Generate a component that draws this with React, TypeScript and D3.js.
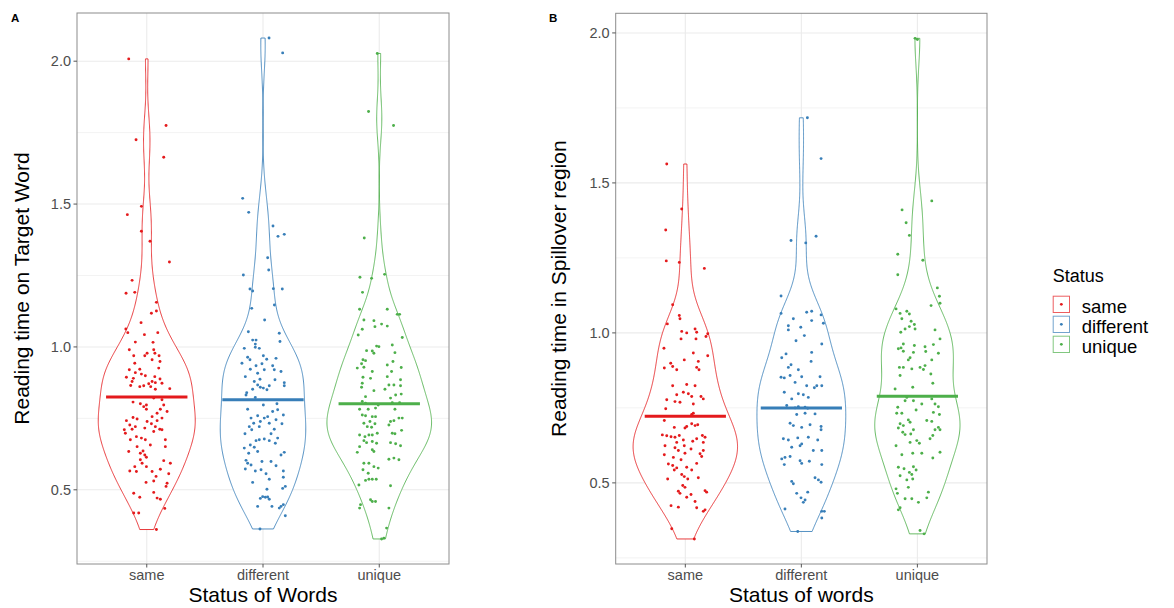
import React from 'react';
import * as d3 from 'd3';

type Pt = [number, number]; // [jitter offset in category units, value]

const categories = ['same', 'different', 'unique'];
const colors = ['#E41A1C', '#377EB8', '#4DAF4A'];
const yTicks = [0.5, 1.0, 1.5, 2.0];
const yMinorTicks = [0.25, 0.75, 1.25, 1.75];
const meansA = [0.825, 0.815, 0.801];
const meansB = [0.722, 0.75, 0.789];

const sameA: Pt[] = [
  [-0.155,2.008],[0.166,1.775],[-0.092,1.725],[0.146,1.664],[-0.046,1.492],[-0.167,1.463],[-0.046,1.405],[0.028,1.37],[0.195,1.297],[-0.126,1.233],[-0.178,1.188],[-0.103,1.191],
  [0.083,1.156],[0.04,1.118],[0.083,1.126],[-0.049,1.085],[-0.18,1.063],[-0.163,1.05],[-0.02,1.043],[0.095,1.05],[-0.098,1.017],[0.054,1.016],[-0.15,0.99],[0.06,0.99],[0.07,0.978],[-0.112,0.969],[-0.017,0.969],[0.003,0.978],[0.106,0.969],[0.046,0.955],[0.114,0.949],[-0.103,0.943],[-0.15,0.92],[-0.06,0.922],[0.103,0.926],[-0.098,0.91],[-0.046,0.905],[-0.012,0.899],[-0.175,0.894],[-0.115,0.89],[0.069,0.896],[0.114,0.888],[-0.126,0.879],[0.046,0.879],[0.017,0.871],[0.074,0.875],[0.131,0.873],[-0.138,0.865],[-0.06,0.861],[-0.026,0.864],[0.034,0.861],[0.198,0.854],[0.074,0.852],
  [0.06,0.821],[0.131,0.815],[-0.118,0.807],[-0.055,0.801],[-0.003,0.797],[0.146,0.797],[-0.026,0.791],[-0.003,0.782],[0.117,0.782],[0.175,0.774],[0.089,0.768],[0.046,0.756],[-0.118,0.753],[-0.083,0.748],[0.131,0.751],[-0.175,0.742],[0.003,0.739],[0.089,0.742],[-0.146,0.727],[0.04,0.731],[0.074,0.721],[-0.098,0.721],[-0.017,0.716],[0.112,0.712],[-0.193,0.71],[-0.126,0.712],[-0.184,0.698],[0.06,0.704],[0.131,0.71],[-0.089,0.686],[-0.046,0.681],[-0.141,0.675],[-0.012,0.675],[0.16,0.675],[0.031,0.657],[-0.083,0.651],[0.16,0.651],[-0.032,0.636],[-0.055,0.628],[-0.155,0.634],[-0.017,0.622],[-0.003,0.614],[-0.055,0.605],[0.146,0.602],[-0.04,0.593],[0.203,0.593],[-0.103,0.581],[-0.003,0.581],[0.117,0.572],[-0.146,0.566],[-0.089,0.564],[0.046,0.564],[0.189,0.556],[0.08,0.547],[-0.006,0.526],[0.06,0.531],[0.175,0.523],[0.166,0.512],[-0.112,0.488],[-0.06,0.474],[0.06,0.491],[0.089,0.471],[0.117,0.467],[0.155,0.435],[-0.112,0.419],[-0.069,0.419],[0.083,0.361]
];

const differentA: Pt[] = [
  [0.052,2.081],[0.169,2.029],[-0.175,1.52],[-0.123,1.471],[0.086,1.423],[0.129,1.387],[0.183,1.394],[0.04,1.312],[0.049,1.269],[-0.169,1.252],[-0.112,1.203],[-0.089,1.196],[0.089,1.204],[0.166,1.203],
  [0.098,1.147],[-0.097,1.135],[0.014,1.094],[-0.126,1.053],[0.14,1.048],[-0.089,1.024],[-0.06,1.024],[-0.066,1.01],[0.146,1.019],[-0.066,0.999],[-0.161,0.995],[-0.032,0.995],[0.003,0.969],[0.112,0.96],[-0.132,0.964],[-0.112,0.955],[0.032,0.957],[-0.181,0.943],[-0.009,0.941],[-0.06,0.934],[0.083,0.934],[-0.109,0.922],[0.011,0.92],[0.097,0.92],[0.155,0.914],[-0.046,0.908],[-0.152,0.896],[-0.026,0.887],[0.103,0.885],[-0.075,0.879],[0.183,0.875],[-0.046,0.867],[0.054,0.864],[0.183,0.864],[-0.023,0.859],[0.003,0.856],[-0.089,0.852],[0.034,0.85],[-0.14,0.84],[-0.146,0.832],[-0.066,0.823],
  [0.003,0.797],[0.12,0.801],[-0.132,0.782],[0.126,0.78],[0.083,0.774],[0.175,0.762],[-0.046,0.759],[0.04,0.756],[-0.103,0.751],[0.011,0.751],[0.112,0.745],[-0.023,0.739],[-0.08,0.733],[0.054,0.733],[0.163,0.731],[-0.118,0.721],[-0.032,0.721],[0.097,0.712],[-0.097,0.71],[-0.155,0.696],[0.069,0.696],[0.126,0.681],[0.011,0.678],[-0.032,0.675],[-0.06,0.672],[0.054,0.672],[-0.109,0.657],[-0.075,0.649],[0.106,0.663],[-0.161,0.646],[-0.123,0.628],[-0.046,0.634],[0.183,0.631],[0.155,0.622],[-0.146,0.603],[-0.132,0.593],[-0.009,0.599],[0.069,0.599],[-0.103,0.587],[0.112,0.584],[-0.152,0.573],[-0.066,0.566],[-0.017,0.57],[0.175,0.566],[0.026,0.556],[0.175,0.544],[0.054,0.537],[-0.089,0.526],[0.192,0.512],[0.169,0.505],[0.034,0.502],[-0.003,0.476],[0.02,0.474],[0.04,0.475],[-0.023,0.47],[0.054,0.467],[-0.046,0.442],[0.077,0.442],[0.155,0.442],[0.175,0.448],[0.14,0.436],[0.192,0.409],[-0.026,0.363]
];

const uniqueA: Pt[] = [
  [-0.017,2.027],[-0.092,1.824],[0.123,1.775],[-0.129,1.381],[-0.166,1.244],[-0.066,1.24],[0.046,1.254],[-0.144,1.191],
  [-0.169,1.132],[0.069,1.132],[0.155,1.114],[0.175,1.114],[-0.132,1.094],[-0.046,1.092],[0.02,1.08],[-0.037,1.071],[0.069,1.073],[-0.146,1.062],[-0.181,1.042],[0.198,1.033],[-0.023,1.003],[-0.003,1.001],[0.112,1.007],[-0.109,0.987],[-0.046,0.978],[-0.06,0.986],[0.135,0.98],[-0.14,0.955],[-0.118,0.952],[0.118,0.949],[-0.152,0.941],[0.069,0.937],[-0.189,0.926],[-0.132,0.929],[0.189,0.928],[-0.06,0.914],[0.106,0.914],[-0.14,0.894],[-0.075,0.89],[0.069,0.896],[0.183,0.885],[-0.146,0.873],[0.083,0.867],[0.126,0.867],[0.183,0.864],[-0.152,0.859],[-0.046,0.847],[0.049,0.852],[0.141,0.832],[0.189,0.835],[-0.118,0.826],[0.097,0.821],
  [-0.146,0.809],[-0.118,0.803],[-0.009,0.797],[0.112,0.805],[0.175,0.805],[-0.169,0.782],[-0.095,0.782],[-0.032,0.786],[0.135,0.782],[-0.146,0.762],[-0.118,0.759],[-0.06,0.756],[-0.032,0.756],[0.169,0.751],[0.198,0.751],[-0.08,0.739],[0.097,0.739],[0.126,0.742],[-0.132,0.733],[-0.037,0.731],[0.083,0.727],[-0.103,0.721],[-0.066,0.719],[0.192,0.708],[0.112,0.698],[0.135,0.696],[-0.169,0.692],[-0.123,0.686],[-0.089,0.692],[-0.06,0.692],[-0.017,0.698],[-0.132,0.672],[-0.109,0.665],[-0.06,0.669],[-0.023,0.663],[0.097,0.665],[0.141,0.661],[0.183,0.654],[-0.169,0.651],[-0.06,0.64],[-0.046,0.634],[-0.189,0.631],[0.083,0.607],[0.126,0.611],[0.169,0.605],[-0.132,0.593],[-0.089,0.593],[-0.046,0.581],[-0.009,0.576],[-0.14,0.57],[-0.095,0.558],[-0.026,0.537],[-0.06,0.537],[-0.089,0.537],[-0.118,0.533],[-0.175,0.517],[0.097,0.514],[-0.075,0.465],[-0.06,0.459],[-0.032,0.459],[-0.161,0.448],[-0.169,0.436],[0.083,0.436],[0.063,0.366],[0.02,0.328],[0.04,0.331]
];

const sameB: Pt[] = [
  [-0.16,1.563],[-0.031,1.413],[-0.169,1.343],[-0.164,1.24],[-0.052,1.235],[0.164,1.215],
  [-0.109,1.094],[-0.052,1.058],[-0.046,1.047],[-0.155,1.03],[-0.031,1.005],[0.012,1.0],[0.084,1.013],[0.098,1.002],[0.193,0.997],[-0.037,0.98],[0.092,0.98],[0.178,0.988],[-0.184,0.949],[0.069,0.933],[0.193,0.924],[-0.009,0.91],[0.112,0.905],[-0.126,0.899],[-0.109,0.888],[-0.181,0.883],[-0.074,0.877],[0.098,0.885],[0.118,0.877],[-0.109,0.824],[0.012,0.828],[0.084,0.824],[-0.017,0.802],[-0.074,0.794],[0.026,0.797],[0.055,0.788],[0.135,0.788],[0.155,0.78],[-0.16,0.777],[-0.089,0.771],[-0.046,0.769],[0.069,0.763],[-0.169,0.747],[0.069,0.732],[0.055,0.728],[-0.181,0.708],[0.012,0.688],[-0.003,0.683],[0.055,0.697],[0.084,0.691],[0.107,0.694],[-0.095,0.685],[-0.198,0.66],[-0.16,0.657],[-0.123,0.654],[-0.089,0.652],[-0.052,0.658],[0.147,0.658],[0.17,0.652],[-0.017,0.643],[-0.074,0.635],[0.064,0.639],[0.098,0.647],[0.155,0.635],[-0.175,0.624],[-0.009,0.624],[-0.089,0.617],[-0.06,0.608],[0.049,0.613],[0.155,0.608],[-0.181,0.594],[-0.003,0.599],[-0.103,0.585],[0.127,0.597],[0.141,0.588],[-0.037,0.577],[-0.146,0.563],[-0.109,0.558],[0.098,0.565],[-0.095,0.543],[-0.074,0.55],[0.012,0.552],[0.055,0.543],[-0.031,0.528],[-0.009,0.521],[-0.152,0.513],[0.021,0.513],[0.112,0.517],[-0.022,0.491],[-0.003,0.485],[-0.06,0.472],[-0.046,0.465],[0.17,0.474],[0.184,0.469],[0.049,0.461],[0.012,0.452],[0.084,0.438],[-0.123,0.424],[-0.06,0.419],[0.098,0.417],[0.17,0.41],[0.155,0.405],[-0.117,0.347],[0.078,0.313]
];

const differentB: Pt[] = [
  [0.052,1.717],[0.17,1.581],[-0.089,1.308],[0.038,1.3],[0.127,1.322],[-0.175,1.123],
  [-0.175,1.065],[0.046,1.069],[0.089,1.072],[0.17,1.06],[-0.069,1.047],[0.089,1.041],[0.19,1.032],[-0.112,1.024],[-0.112,1.01],[-0.005,1.019],[0.026,0.991],[-0.046,0.974],[0.176,0.963],[-0.132,0.93],[0.089,0.935],[-0.169,0.917],[-0.089,0.894],[-0.112,0.885],[-0.026,0.877],[0.084,0.905],[-0.175,0.852],[-0.147,0.85],[-0.097,0.858],[0.003,0.854],[0.161,0.854],[-0.054,0.835],[0.046,0.824],[0.112,0.817],[0.133,0.824],[0.176,0.824],[-0.147,0.802],[-0.026,0.797],[0.017,0.794],[0.06,0.785],[-0.083,0.78],[-0.126,0.758],[-0.054,0.75],[-0.026,0.754],[0.032,0.752],[0.055,0.749],[0.118,0.73],[-0.04,0.728],[0.032,0.732],[-0.097,0.699],[-0.069,0.691],[0.075,0.694],[0.17,0.688],[0.17,0.677],[0.003,0.685],[-0.155,0.647],[-0.112,0.643],[-0.031,0.65],[0.06,0.652],[0.141,0.643],[-0.011,0.624],[0.003,0.63],[-0.083,0.619],[0.103,0.608],[0.176,0.608],[-0.141,0.585],[-0.169,0.58],[-0.097,0.588],[-0.011,0.574],[0.003,0.565],[0.069,0.572],[-0.147,0.561],[0.176,0.561],[-0.083,0.505],[-0.069,0.497],[0.118,0.517],[0.147,0.51],[0.17,0.502],[-0.04,0.465],[0.055,0.469],[-0.003,0.45],[0.032,0.443],[0.017,0.435],[-0.141,0.413],[0.176,0.405],[0.198,0.405],[0.176,0.383],[-0.031,0.338]
];

const uniqueB: Pt[] = [
  [-0.02,1.982],[0.0,1.978],[0.124,1.44],[-0.132,1.41],[-0.097,1.367],[-0.069,1.325],[-0.169,1.262],[0.047,1.242],[-0.169,1.194],[0.172,1.15],[0.19,1.122],
  [0.195,1.099],[0.118,1.091],[-0.184,1.08],[-0.149,1.065],[-0.091,1.072],[-0.069,1.063],[-0.134,1.047],[-0.054,1.039],[-0.026,1.028],[-0.069,1.021],[-0.02,1.013],[-0.106,1.013],[-0.143,1.002],[0.152,1.01],[0.195,0.98],[-0.121,0.963],[-0.141,0.95],[-0.164,0.947],[-0.026,0.958],[0.066,0.954],[0.138,0.961],[-0.034,0.935],[-0.121,0.939],[0.072,0.938],[0.181,0.932],[-0.063,0.917],[-0.078,0.91],[0.124,0.91],[-0.155,0.885],[-0.121,0.885],[-0.048,0.88],[0.023,0.885],[0.052,0.878],[0.066,0.891],[0.116,0.863],[-0.149,0.858],[0.133,0.832],[-0.192,0.813],[-0.04,0.819],[-0.091,0.785],[-0.034,0.774],[0.124,0.78],[-0.106,0.774],[0.038,0.763],[-0.169,0.752],[0.152,0.763],[0.181,0.754],[-0.011,0.743],[-0.178,0.732],[-0.134,0.732],[0.138,0.735],[0.19,0.728],[-0.078,0.71],[-0.063,0.702],[0.081,0.708],[0.124,0.705],[-0.149,0.697],[-0.121,0.691],[-0.164,0.683],[0.181,0.685],[0.195,0.677],[0.152,0.677],[-0.034,0.677],[-0.126,0.669],[-0.106,0.661],[0.133,0.658],[0.109,0.647],[-0.057,0.663],[-0.005,0.641],[0.017,0.632],[-0.184,0.624],[-0.063,0.635],[0.195,0.602],[-0.134,0.594],[-0.04,0.599],[0.038,0.599],[0.133,0.583],[-0.164,0.552],[-0.115,0.547],[-0.034,0.554],[-0.011,0.543],[-0.069,0.535],[-0.048,0.528],[-0.149,0.524],[-0.091,0.51],[-0.04,0.513],[-0.078,0.485],[-0.184,0.48],[-0.172,0.465],[0.095,0.469],[0.081,0.45],[-0.106,0.447],[-0.048,0.447],[0.009,0.435],[-0.164,0.41],[-0.149,0.417],[0.023,0.341],[0.058,0.33]
];

const groupsA = [sameA, differentA, uniqueA];
const groupsB = [sameB, differentB, uniqueB];

const FONT = '"Liberation Sans", Arial, Helvetica, sans-serif';

function nrd0(v: number[]) {
  const s = [...v].sort((a, b) => a - b);
  const sd = d3.deviation(s) || 1;
  const iqr = (d3.quantile(s, 0.75)! - d3.quantile(s, 0.25)!) / 1.34;
  const lo = Math.min(sd, iqr > 0 ? iqr : sd);
  return 0.9 * lo * Math.pow(s.length, -0.2);
}

function density(v: number[], n = 512) {
  const bw = nrd0(v);
  const lo = d3.min(v)!, hi = d3.max(v)!;
  const out: [number, number][] = [];
  for (let i = 0; i < n; i++) {
    const y = lo + (hi - lo) * i / (n - 1);
    let s = 0;
    for (const xi of v) {
      const z = (y - xi) / bw;
      s += Math.exp(-0.5 * z * z);
    }
    out.push([y, s / (v.length * bw * Math.sqrt(2 * Math.PI))]);
  }
  return out;
}

type PanelProps = {
  left: number; right: number; top: number; bottom: number;
  groups: Pt[][]; means: number[]; yTitle: string; xTitle: string;
  tag: string; tagX: number; yTitleX: number;
};

function Panel(p: PanelProps) {
  const all = p.groups.flat().map(d => d[1]);
  const mn = d3.min(all)!, mx = d3.max(all)!;
  const pad = (mx - mn) * 0.05;
  const y = d3.scaleLinear().domain([mn - pad, mx + pad]).range([p.bottom, p.top]);
  const x = d3.scalePoint<string>().domain(categories).range([p.left, p.right]).padding(0.6);
  const step = x.step();
  const dens = p.groups.map(g => density(g.map(d => d[1])));
  const maxD = d3.max(dens.flat().map(d => d[1]))!;
  const gridColor = '#EBEBEB';
  const textGrey = '#4D4D4D';
  const cx = (i: number) => x(categories[i])!;

  return (
    <g>
      <text x={p.tagX} y={22} fontFamily={FONT} fontWeight="bold" fontSize={11.5} fill="#000">{p.tag}</text>
      <rect x={p.left} y={p.top} width={p.right - p.left} height={p.bottom - p.top} fill="#fff" />
      {yMinorTicks.filter(t => y(t) <= p.bottom && y(t) >= p.top).map(t => (
        <line key={'mn' + t} x1={p.left} x2={p.right} y1={y(t)} y2={y(t)} stroke={gridColor} strokeWidth={0.6} />
      ))}
      {yTicks.map(t => (
        <line key={'mj' + t} x1={p.left} x2={p.right} y1={y(t)} y2={y(t)} stroke={gridColor} strokeWidth={1.1} />
      ))}
      {categories.map((c, i) => (
        <line key={'vx' + c} x1={cx(i)} x2={cx(i)} y1={p.top} y2={p.bottom} stroke={gridColor} strokeWidth={1.1} />
      ))}
      {dens.map((dd, i) => {
        const hw = (v: number) => (v / maxD) * 0.45 * step;
        const right = dd.map(([v, dv]) => [cx(i) + hw(dv), y(v)] as [number, number]);
        const left = dd.slice().reverse().map(([v, dv]) => [cx(i) - hw(dv), y(v)] as [number, number]);
        const path = d3.line()([...right, ...left]) + 'Z';
        return <path key={'v' + i} d={path} fill="#fff" stroke={colors[i]} strokeWidth={1} strokeOpacity={0.85} />;
      })}
      {p.groups.map((g, i) => g.map((d, j) => (
        <circle key={'p' + i + '_' + j} cx={cx(i) + d[0] * step} cy={y(d[1])} r={1.45} fill={colors[i]} />
      )))}
      {p.means.map((m, i) => (
        <line key={'m' + i} x1={cx(i) - 0.35 * step} x2={cx(i) + 0.35 * step} y1={y(m)} y2={y(m)} stroke={colors[i]} strokeWidth={3} />
      ))}
      <rect x={p.left} y={p.top} width={p.right - p.left} height={p.bottom - p.top} fill="none" stroke="#8C8C8C" strokeWidth={1} />
      {yTicks.map(t => (
        <g key={'yt' + t}>
          <line x1={p.left - 3.5} x2={p.left} y1={y(t)} y2={y(t)} stroke="#555" strokeWidth={1} />
          <text x={p.left - 6} y={y(t)} dy="0.35em" textAnchor="end" fontFamily={FONT} fontSize={14.5} fill={textGrey}>{t.toFixed(1)}</text>
        </g>
      ))}
      {categories.map((c, i) => (
        <g key={'xt' + c}>
          <line x1={cx(i)} x2={cx(i)} y1={p.bottom} y2={p.bottom + 3.5} stroke="#555" strokeWidth={1} />
          <text x={cx(i)} y={580} textAnchor="middle" fontFamily={FONT} fontSize={14.5} fill={textGrey}>{c}</text>
        </g>
      ))}
      <text x={(p.left + p.right) / 2} y={601.5} textAnchor="middle" fontFamily={FONT} fontSize={21} fill="#000">{p.xTitle}</text>
      <text transform={`translate(${p.yTitleX},${(p.top + p.bottom) / 2}) rotate(-90)`} textAnchor="middle" fontFamily={FONT} fontSize={21} fill="#000">{p.yTitle}</text>
    </g>
  );
}

export default function App() {
  const keyTop = 295.7;
  const keyStep = 20;
  const keySize = 17.3;
  return (
    <svg width={1174} height={608} style={{ position: 'absolute', left: 0, top: 0, background: '#fff' }}>
      <rect x={0} y={0} width={1174} height={608} fill="#fff" />
      <Panel left={77} right={449} top={13} bottom={564} groups={groupsA} means={meansA}
        yTitle="Reading time on Target Word" xTitle="Status of Words" tag="A" tagX={11} yTitleX={29} />
      <Panel left={615.7} right={987} top={13.3} bottom={564} groups={groupsB} means={meansB}
        yTitle="Reading time in Spillover region" xTitle="Status of words" tag="B" tagX={549} yTitleX={566} />
      <g>
        <text x={1052.7} y={281.7} fontFamily={FONT} fontSize={18} fill="#000">Status</text>
        {categories.map((c, i) => {
          const ty = keyTop + i * keyStep;
          return (
            <g key={'lg' + c}>
              <rect x={1053.2} y={ty + 0.5} width={keySize - 1} height={keySize - 1} fill="#fff" stroke={colors[i]} strokeWidth={1} strokeOpacity={0.7} />
              <circle cx={1053.2 + (keySize - 1) / 2} cy={ty + 0.5 + (keySize - 1) / 2} r={1.4} fill={colors[i]} />
              <text x={1081.7} y={ty + 17.3} fontFamily={FONT} fontSize={18.5} fill="#000">{c}</text>
            </g>
          );
        })}
      </g>
    </svg>
  );
}
